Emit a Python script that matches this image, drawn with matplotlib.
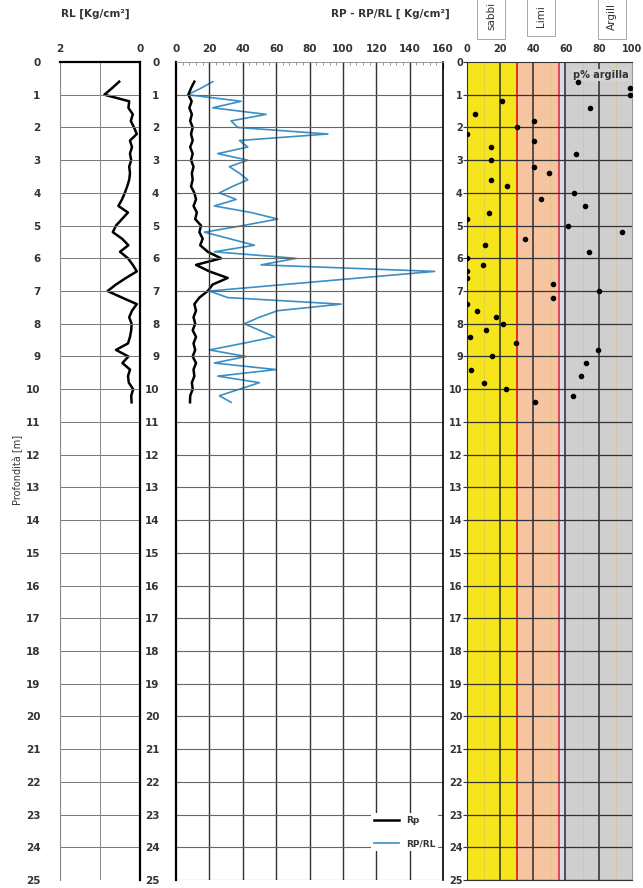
import matplotlib.pyplot as plt
import numpy as np

# profondita delle letture [m]
depth = [0.6, 0.8, 1.0, 1.2, 1.4, 1.6, 1.8, 2.0, 2.2, 2.4,
         2.6, 2.8, 3.0, 3.2, 3.4, 3.6, 3.8, 4.0, 4.2, 4.4,
         4.6, 4.8, 5.0, 5.2, 5.4, 5.6, 5.8, 6.0, 6.2, 6.4,
         6.6, 6.8, 7.0, 7.2, 7.4, 7.6, 7.8, 8.0, 8.2, 8.4,
         8.6, 8.8, 9.0, 9.2, 9.4, 9.6, 9.8, 10.0, 10.2, 10.4]

rl = [0.52, 0.70, 0.89, 0.27, 0.29, 0.18, 0.23, 0.15, 0.08, 0.25,
      0.20, 0.25, 0.22, 0.27, 0.25, 0.27, 0.32, 0.38, 0.45, 0.54,
      0.30, 0.45, 0.60, 0.68, 0.45, 0.29, 0.50, 0.30, 0.18, 0.08,
      0.35, 0.60, 0.81, 0.45, 0.08, 0.20, 0.27, 0.21, 0.22, 0.25,
      0.30, 0.60, 0.29, 0.44, 0.25, 0.30, 0.28, 0.17, 0.22, 0.21]

rp = [11, 9, 7.4, 9.4, 8, 9.5, 8.5, 10, 9, 10,
      8.5, 10, 9, 10.5, 9.5, 10, 9, 11, 12, 10.5,
      12.5, 11.5, 15, 14, 16, 14.5, 19, 27, 12, 20,
      31, 22, 19, 14, 11, 12, 10.5, 11.5, 10, 12,
      10.5, 11.5, 10, 12, 10.5, 11, 9.5, 10, 8.5, 8.4]

rp_rl = [22, 15, 7, 39, 22, 54, 33, 37, 91, 38,
         43, 25, 43, 32, 38, 43, 34, 26, 36, 23,
         45, 61, 40, 17, 32, 47, 23, 72, 51, 155,
         110, 65, 20, 31, 99, 61, 50, 41, 50, 59,
         40, 20, 42, 23, 60, 25, 50, 38, 26, 33]

argilla = [67.5, 98.8, 98.8, 21.4, 74.5, 4.8, 40.6, 30.1, 0.2, 40.6,
           14.3, 66, 14.3, 40.6, 49.9, 14.3, 24.4, 64.8, 45, 71.5,
           13.3, 0.2, 61.4, 93.7, 35.2, 10.9, 74.1, 0.2, 9.9, 0.2,
           0.2, 51.9, 80.2, 51.9, 0.2, 5.9, 17.6, 22, 11.3, 1.8,
           29.7, 79.6, 15, 72.1, 2.2, 69.1, 10.3, 23.6, 64.4, 41.2]

depth_ticks = list(range(0, 26))

fig = plt.figure(figsize=(6.43, 8.88), dpi=100)
W, H = 643, 888


def box(x0, y0, x1, y1):
    return [x0 / W, 1 - y1 / H, (x1 - x0) / W, (y1 - y0) / H]


# ---------- pannello RL ----------
ax1 = fig.add_axes(box(60, 62, 140, 880))
ax1.plot(rl, depth, color='black', lw=1.8)
ax1.set_xlim(2, 0)
ax1.set_ylim(25, 0)
ax1.set_yticks(depth_ticks)
ax1.set_xticks([2, 0])
ax1.xaxis.tick_top()
for d in depth_ticks[1:]:
    ax1.axhline(d, color='#777777', lw=0.7)
ax1.axvline(1, color='#888888', lw=0.7)
ax1.tick_params(axis='both', length=0, pad=14, labelsize=7.5, colors='#333333')
for lab in ax1.get_xticklabels() + ax1.get_yticklabels():
    lab.set_fontweight('bold')
ax1.tick_params(axis='x', pad=6)
ax1.spines['left'].set_color('#888888')
ax1.spines['left'].set_linewidth(0.8)
ax1.spines['bottom'].set_visible(False)
ax1.spines['right'].set_linewidth(1.6)
ax1.spines['top'].set_linewidth(1.6)
fig.text(95 / W, 1 - 14 / H, 'RL [Kg/cm²]', ha='center', va='center',
         fontsize=7.5, fontweight='bold', color='#333333')
fig.text(18 / W, 1 - 470 / H, 'Profondità [m]', rotation=90, ha='center',
         va='center', fontsize=7, color='#333333')

# ---------- pannello RP - RP/RL ----------
ax2 = fig.add_axes(box(176, 62, 443, 880))
line_ratio, = ax2.plot(rp_rl, depth, color='#3a8fc4', lw=1.2, label='RP/RL')
line_rp, = ax2.plot(rp, depth, color='black', lw=1.8, label='Rp')
ax2.set_xlim(0, 160)
ax2.set_ylim(25, 0)
ax2.set_xticks(range(0, 161, 20))
ax2.set_xticks(range(0, 161, 4), minor=True)
ax2.set_yticks(depth_ticks)
ax2.xaxis.tick_top()
for x in range(20, 160, 20):
    ax2.axvline(x, color='#333333', lw=1.0)
for d in depth_ticks[1:]:
    ax2.axhline(d, color='#666666', lw=0.8)
ax2.tick_params(axis='x', which='major', length=5, direction='in', pad=6,
                labelsize=7.5, colors='#333333')
ax2.tick_params(axis='x', which='minor', length=2, direction='in', color='#888888')
ax2.tick_params(axis='y', length=0, pad=12, labelsize=7.5, colors='#333333')
for lab in ax2.get_xticklabels() + ax2.get_yticklabels():
    lab.set_fontweight('bold')
ax2.spines['left'].set_linewidth(1.6)
ax2.spines['right'].set_linewidth(1.2)
ax2.spines['bottom'].set_visible(False)
ax2.spines['top'].set_color('#888888')
ax2.spines['top'].set_linewidth(0.6)
leg = ax2.legend(handles=[line_rp, line_ratio], loc='lower right',
                 bbox_to_anchor=(1.0, 0.03), frameon=True, facecolor='white',
                 edgecolor='none', framealpha=1, fontsize=6.5, handlelength=2.8,
                 labelspacing=1.6, borderpad=0.3)
for t in leg.get_texts():
    t.set_fontweight('bold')
    t.set_color('#333333')
fig.text(390 / W, 1 - 14 / H, 'RP - RP/RL [ Kg/cm²]', ha='center', va='center',
         fontsize=7.5, fontweight='bold', color='#333333')

# ---------- pannello granulometria ----------
ax3 = fig.add_axes(box(467, 62, 632, 880))
ax3.axvspan(0, 30, color='#f6e41c', lw=0)
ax3.axvspan(30, 56, color='#f7c4a2', lw=0)
ax3.axvspan(56, 59, color='#e3d8e6', lw=0)
ax3.axvspan(59, 100, color='#cfcfcf', lw=0)
for x in [10, 30, 50, 70, 90]:
    ax3.axvline(x, color='#d8c060', lw=0.6, alpha=0.6)
for x in [20, 40, 80]:
    ax3.axvline(x, color='#2b2b2b', lw=1.1)
ax3.axvline(30, color='#e0241c', lw=1.3)
ax3.axvline(56, color='#d8324a', lw=1.2)
ax3.axvline(59.5, color='#44505c', lw=1.4)
for d in depth_ticks[1:]:
    ax3.axhline(d, color='#333333', lw=0.9)
ax3.scatter(argilla, depth, s=9, color='black', zorder=5)
ax3.set_xlim(0, 100)
ax3.set_ylim(25, 0)
ax3.set_xticks(range(0, 101, 20))
ax3.set_yticks(depth_ticks)
ax3.xaxis.tick_top()
ax3.tick_params(axis='x', length=0, pad=6, labelsize=7, colors='#333333')
ax3.tick_params(axis='y', length=3, pad=0, labelsize=7, colors='#333333')
for lab in ax3.get_xticklabels() + ax3.get_yticklabels():
    lab.set_fontweight('bold')
for s in ['left', 'top', 'bottom']:
    ax3.spines[s].set_color('#333333')
ax3.spines['right'].set_color('#999999')
ax3.text(98, 0.4, 'p% argilla', ha='right', va='center', fontsize=7,
         color='#333333', fontweight='bold',
         bbox=dict(facecolor='#d4d4d4', edgecolor='none', pad=0.5))

# etichette dei campi (riquadri tagliati in alto come nell'originale)
for label, xc in [('sabbi', 491), ('Limi', 541), ('Argill', 612)]:
    fig.text(xc / W, 1 - 16 / H, label, rotation=90, ha='center', va='center',
             fontsize=7.5, color='#333333',
             bbox=dict(facecolor='white', edgecolor='#999999', lw=0.6,
                       boxstyle='square,pad=0.9'))

fig.savefig('out.png', dpi=100)
